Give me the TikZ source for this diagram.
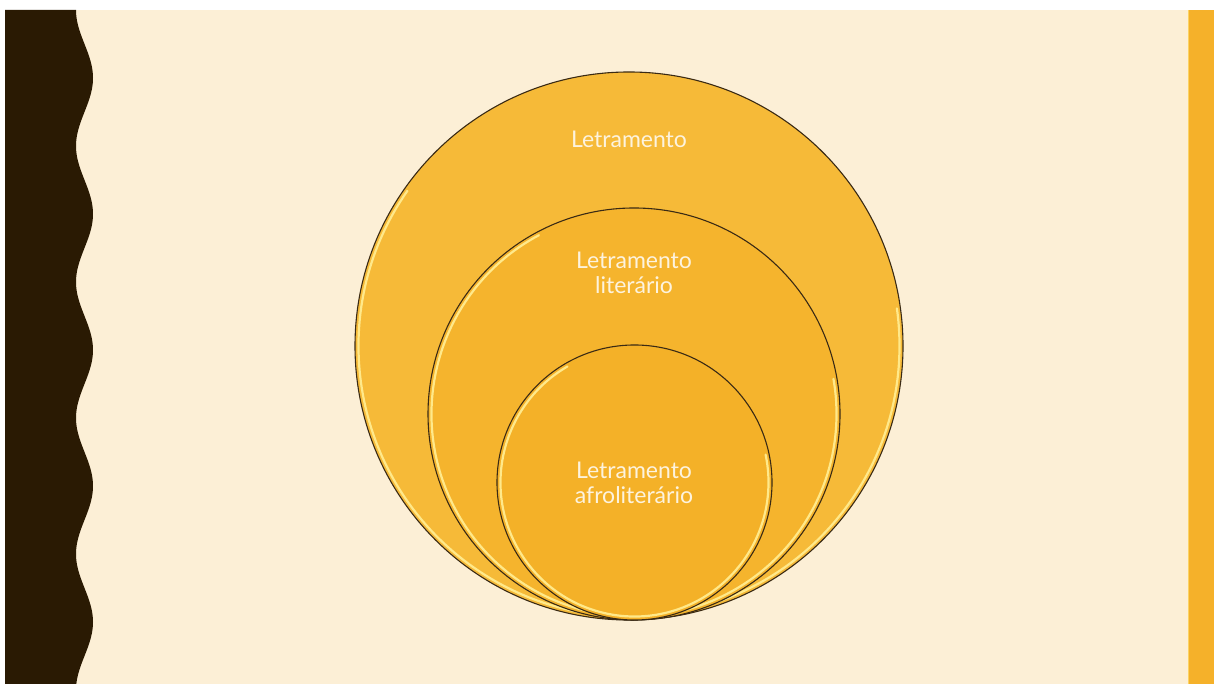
\documentclass[tikz,border=0pt]{standalone}
\usepackage{fontspec}
\setmainfont{Lato}
\usetikzlibrary{calc}
\definecolor{cream}{HTML}{FCEFD6}
\definecolor{darkbrown}{HTML}{2A1A03}
\definecolor{barorange}{HTML}{F5B12A}
\definecolor{outerfill}{HTML}{F6BA38}
\definecolor{midfill}{HTML}{F5B42D}
\definecolor{innerfill}{HTML}{F4B128}
\definecolor{rim}{HTML}{3A2A14}
\definecolor{glow}{HTML}{FFE98A}
\definecolor{labeltext}{HTML}{FDF3DE}
\tikzset{
  ring/.style={draw=rim, line width=1.1pt},
  shine/.style={draw=glow, line width=2.2pt, line cap=round},
  lbl/.style={text=labeltext, align=center, inner sep=0pt,
    font=\fontsize{23}{25}\selectfont}
}
\begin{document}
\begin{tikzpicture}[x=1pt,y=1pt]
\useasboundingbox (0,0) rectangle (1214,684);
\fill[white] (0,0) rectangle (1214,684);
\fill[cream] (5,0) rectangle (1214,674);
% left wavy band
\fill[darkbrown] (5,674) -- (76,674)
  -- plot[domain=10:684, samples=240, smooth] ({84.5-8.5*cos(2.6470588*(\x-10))}, {684-\x})
  -- (5,0) -- cycle;
% right bar
\fill[barorange] (1188,0) rectangle (1214,674);
\draw[glow!60!barorange, line width=0.8pt] (1188.4,0) -- (1188.4,674);
% circles
\coordinate (co) at (629,338);
\coordinate (cm) at (634,270);
\coordinate (ci) at (634.5,201.5);
\fill[outerfill] (co) circle[radius=274];
\draw[shine] ($(co)+(145:270.5)$) arc[start angle=145, end angle=368, radius=270.5];
\draw[ring] (co) circle[radius=274];
\fill[midfill] (cm) circle[radius=206];
\draw[shine] ($(cm)+(118:202.5)$) arc[start angle=118, end angle=370, radius=202.5];
\draw[ring] (cm) circle[radius=206];
\fill[innerfill] (ci) circle[radius=137.5];
\draw[shine] ($(ci)+(120:134)$) arc[start angle=120, end angle=372, radius=134];
\draw[ring] (ci) circle[radius=137.5];
% labels
\node[lbl] (louter) at (629,545) {Letramento};
\node[lbl] (lmid) at (634,411.5) {Letramento\\literário};
\node[lbl] (linner) at (634,201.5) {Letramento\\afroliterário};
\end{tikzpicture}
\end{document}
